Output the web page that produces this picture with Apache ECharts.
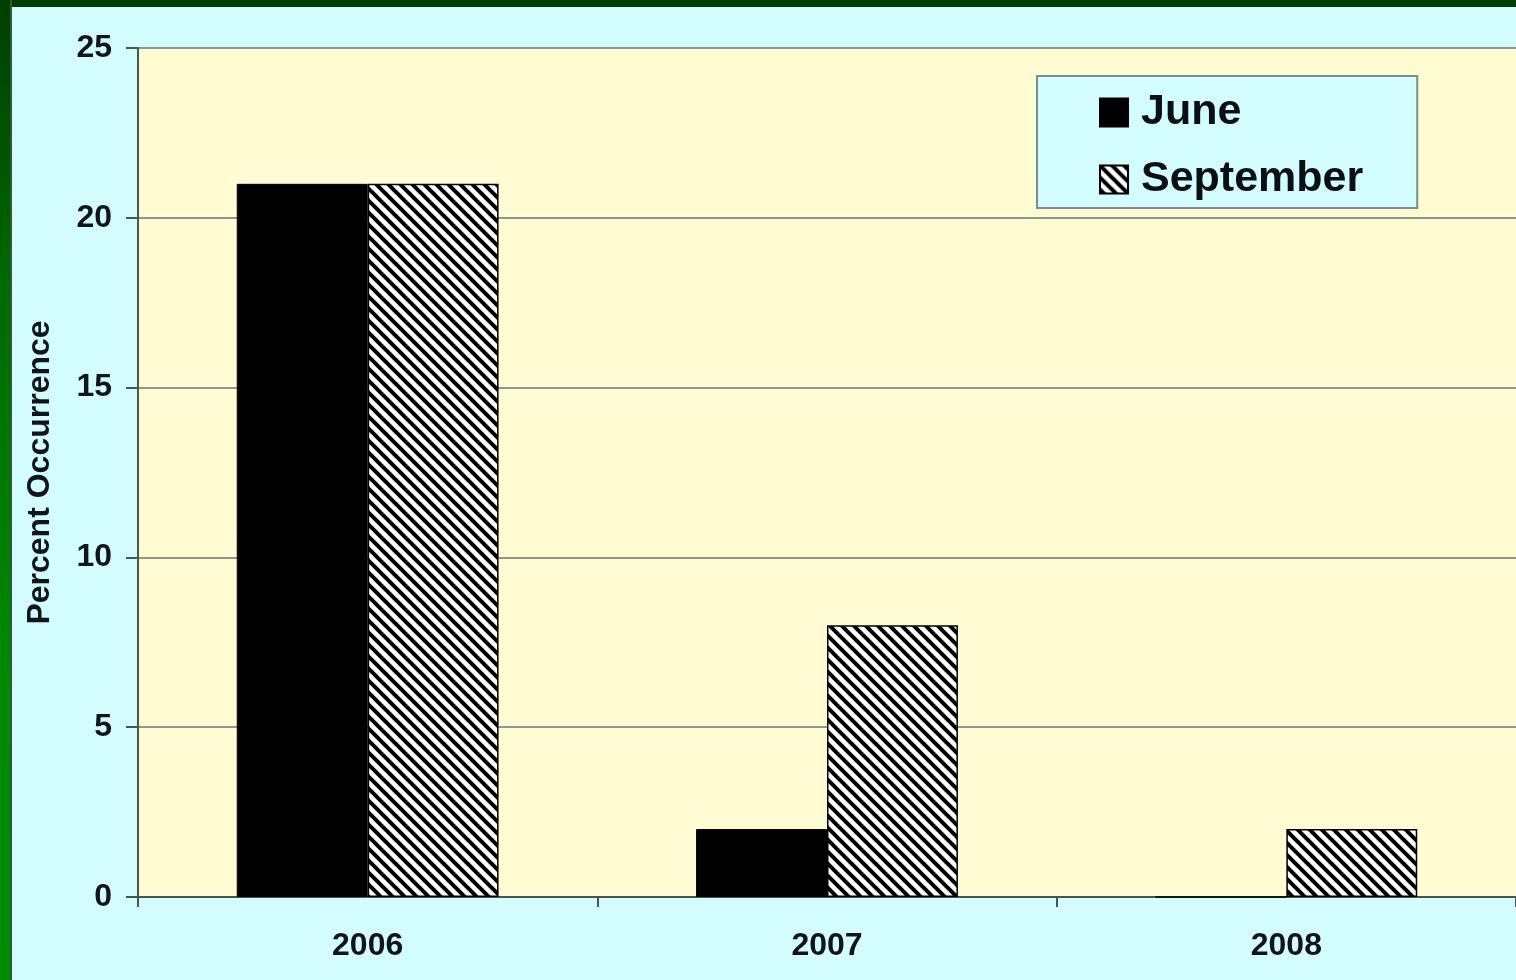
<!DOCTYPE html>
<html>
<head>
<meta charset="utf-8">
<title>Percent Occurrence</title>
<script src="https://cdn.jsdelivr.net/npm/echarts@6/dist/echarts.min.js"></script>
<style>
  html, body { margin: 0; padding: 0; background: #d2fcfe; }
  #main { position: absolute; left: 0; top: 0; width: 1516px; height: 980px; }
  /* green slide frame */
  #frameTop { position: absolute; left: 0; top: 0; width: 1516px; height: 7px; background: #003f00; }
  #frameLeft { position: absolute; left: 0; top: 0; width: 10px; height: 980px;
    background: linear-gradient(to bottom, #003f00 0%, #006a00 30%, #008a00 70%, #008c00 100%);
    border-right: 2px solid #2f5a3a; }
</style>
</head>
<body>
<div id="main"></div>
<div id="frameTop"></div>
<div id="frameLeft"></div>
<script>
// 数据
var years = ['2006', '2007', '2008'];
var juneValues = [21, 2, 0];
var septemberValues = [21, 8, 2];
var seriesNames = ['June', 'September'];

// 斜线填充
function hatchPattern() {
    var c = document.createElement('canvas');
    c.width = 12;
    c.height = 12;
    var ctx = c.getContext('2d');
    ctx.fillStyle = '#ffffff';
    ctx.fillRect(0, 0, 12, 12);
    ctx.strokeStyle = '#000000';
    ctx.lineWidth = 4;
    [-12, 0, 12].forEach(function (k) {
        ctx.beginPath();
        ctx.moveTo(k - 2, -2);
        ctx.lineTo(k + 14, 14);
        ctx.stroke();
    });
    return c;
}

var font = '"Liberation Sans", Arial, sans-serif';
var myChart = echarts.init(document.getElementById('main'), null, {renderer: 'canvas'});

var option = {
    backgroundColor: 'transparent',
    animation: false,
    grid: {
        left: 138,
        top: 48,
        right: -2,
        bottom: 83,
        show: true,
        backgroundColor: '#fffbd3',
        borderWidth: 0
    },
    legend: {
        orient: 'vertical',
        left: 1037,
        top: 76,
        data: seriesNames,
        backgroundColor: '#d2fcfe',
        borderColor: '#7d8c8c',
        borderWidth: 2,
        padding: [15, 54, 7, 62],
        itemGap: 24,
        itemWidth: 28,
        itemHeight: 28,
        icon: 'rect',
        textStyle: {
            fontFamily: font,
            fontWeight: 'bold',
            fontSize: 43,
            lineHeight: 43,
            color: '#0d1012',
            padding: [0, 0, 0, 8]
        }
    },
    xAxis: {
        type: 'category',
        data: years,
        axisLine: {lineStyle: {color: '#4a5552', width: 2}},
        axisTick: {show: true, length: 10, lineStyle: {color: '#4a5552', width: 2}},
        axisLabel: {
            margin: 33,
            fontFamily: font,
            fontWeight: 'bold',
            fontSize: 32,
            color: '#111518'
        }
    },
    yAxis: {
        type: 'value',
        min: 0,
        max: 25,
        interval: 5,
        name: 'Percent Occurrence',
        nameLocation: 'middle',
        nameGap: 82,
        nameTextStyle: {
            fontFamily: font,
            fontWeight: 'bold',
            fontSize: 32,
            color: '#111518'
        },
        axisLine: {show: true, lineStyle: {color: '#4a5552', width: 2}},
        axisTick: {show: true, length: 12, lineStyle: {color: '#4a5552', width: 2}},
        axisLabel: {
            margin: 26,
            fontFamily: font,
            fontWeight: 'bold',
            fontSize: 32,
            color: '#111518'
        },
        splitLine: {show: true, lineStyle: {color: '#8b9790', width: 2}}
    },
    series: [{
        name: seriesNames[0],
        type: 'bar',
        data: juneValues,
        barGap: '0%',
        barCategoryGap: '43%',
        itemStyle: {color: '#000000', borderColor: '#000000', borderWidth: 1}
    }, {
        name: seriesNames[1],
        type: 'bar',
        data: septemberValues,
        barGap: '0%',
        barCategoryGap: '43%',
        itemStyle: {
            color: {image: hatchPattern(), repeat: 'repeat'},
            borderColor: '#000000',
            borderWidth: 1.5
        }
    }]
};

myChart.setOption(option);
</script>
</body>
</html>
